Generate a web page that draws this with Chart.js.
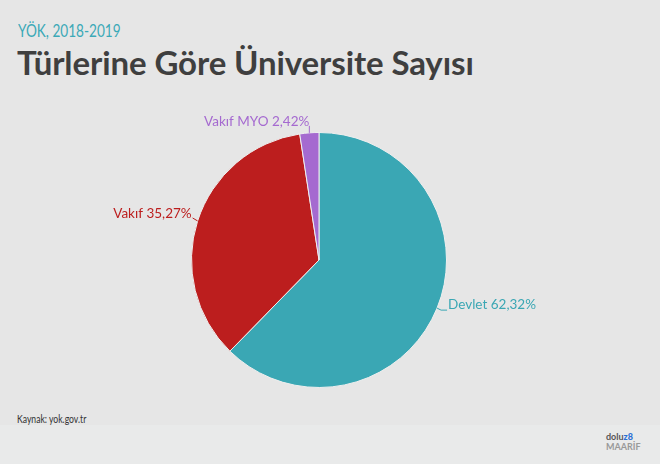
<!DOCTYPE html>
<html>
<head>
<meta charset="utf-8">
<script src="https://cdn.jsdelivr.net/npm/chart.js@4"></script>
<style>
  body { margin:0; width:660px; height:464px; background:#e6e6e6; font-family:Lato, "Open Sans", sans-serif; overflow:hidden; position:relative; }
  #sub { position:absolute; left:18px; top:20px; font-size:17px; color:#3ba9b7; transform:scaleX(0.8); transform-origin:0 0; }
  #title { position:absolute; left:17px; top:42px; font-size:33px; font-weight:700; color:#3f3f3f; letter-spacing:-0.1px; }
  #src { position:absolute; left:17px; top:411px; font-size:12px; color:#333; transform:scaleX(0.72); transform-origin:0 0; }
  #foot { position:absolute; left:0; top:425px; width:660px; height:39px; background:#e9eaea; }
  #logo { position:absolute; left:606px; top:432px; font-size:9px; font-weight:700; line-height:10px; color:#555; }
  #logo b { color:#2a6fd6; }
  #wrap { position:absolute; left:0; top:0; width:660px; height:464px; }
</style>
</head>
<body>
<div id="foot"></div>
<div id="sub">YÖK, 2018-2019</div>
<div id="title">Türlerine Göre Üniversite Sayısı</div>
<div id="src">Kaynak: yok.gov.tr</div>
<div id="logo">dolu<b>z8</b><br><span style="color:#999">MAARİF</span></div>
<div id="wrap"><canvas id="ch"></canvas></div>
<script>
// ------------------------------------------------------------
//  data (2018-2019 university counts)
// ------------------------------------------------------------
const labels  = ['Devlet', 'Vakıf', 'Vakıf MYO'];
const counts  = [129, 73, 5];
const pctText = ['62,32%', '35,27%', '2,42%'];
const colors  = ['#3aa7b4', '#bc1e1e', '#a56ad0'];

const labelPlugin = {
  id: 'sliceLabels',
  afterDraw(chart) {
    const ctx = chart.ctx;
    const arcs = chart.getDatasetMeta(0).data;
    ctx.save();
    ctx.font = '13.5px Lato, "Open Sans", sans-serif';
    ctx.textBaseline = 'middle';
    arcs.forEach((a, i) => {
      const mid = (a.startAngle + a.endAngle) / 2;
      const r = a.outerRadius;
      const px = a.x + Math.cos(mid) * r, py = a.y + Math.sin(mid) * r;
      const txt = labels[i] + ' ' + pctText[i];
      ctx.strokeStyle = colors[i];
      ctx.fillStyle = colors[i];
      ctx.lineWidth = 1;
      ctx.beginPath();
      ctx.moveTo(px, py);
      if (Math.sin(mid) < -0.9) {
        // near the top: short tick up, text ends at the tick
        ctx.lineTo(px, py - 7);
        ctx.stroke();
        ctx.textAlign = 'right';
        ctx.fillText(txt, px, py - 11);
      } else if (Math.cos(mid) > 0) {
        ctx.quadraticCurveTo(px + 3, py + 3, px + 10, py + 2);
        ctx.stroke();
        ctx.textAlign = 'left';
        ctx.fillText(txt, px + 11, py - 3);
      } else {
        ctx.lineTo(px - 5, py - 3);
        ctx.stroke();
        ctx.textAlign = 'right';
        ctx.fillText(txt, px - 6, py - 7);
      }
    });
    ctx.restore();
  }
};

new Chart(document.getElementById('ch'), {
  type: 'pie',
  data: {
    labels,
    datasets: [{ data: counts, backgroundColor: colors, borderColor: '#eeeeee', borderWidth: 1 }]
  },
  options: {
    responsive: true, maintainAspectRatio: false, animation: false,
    layout: { padding: { top: 132, bottom: 76, left: 191, right: 213 } },
    plugins: { legend: { display: false }, tooltip: { enabled: false } }
  },
  plugins: [labelPlugin]
});
</script>
</body>
</html>
